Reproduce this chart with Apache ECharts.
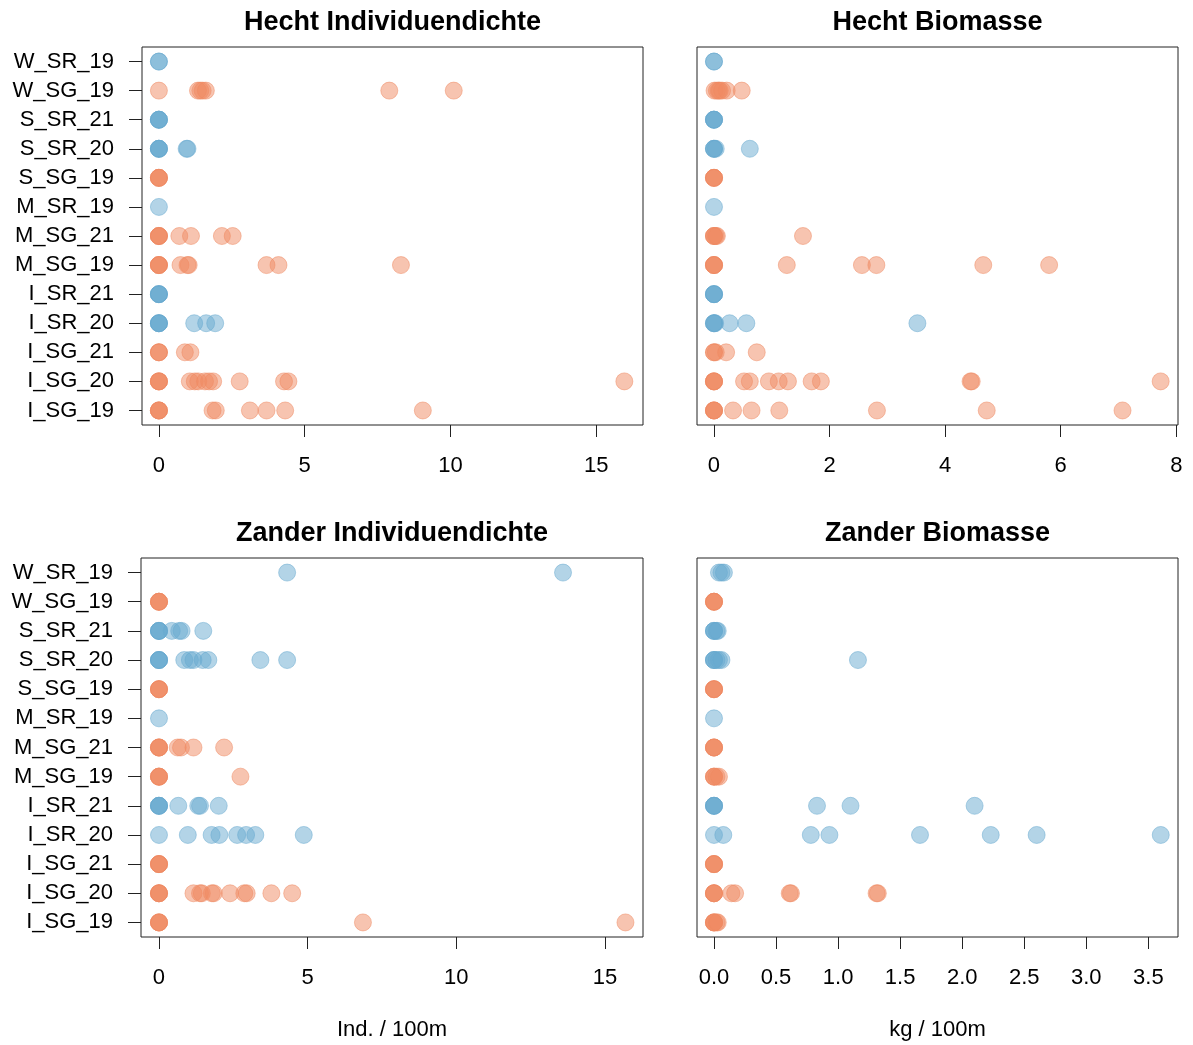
<!DOCTYPE html>
<html>
<head>
<meta charset="utf-8">
<title>Hecht und Zander</title>
<script src="https://cdn.jsdelivr.net/npm/echarts@6/dist/echarts.min.js"></script>
<style>
  html, body { margin: 0; padding: 0; background: #fff; }
  #chart { width: 1193px; height: 1045px; }
</style>
</head>
<body>
<div id="chart"></div>
<script>
// Sampling sites, listed from the bottom row to the top row
const categories = ['I_SG_19', 'I_SG_20', 'I_SG_21', 'I_SR_20', 'I_SR_21', 'M_SG_19', 'M_SG_21',
  'M_SR_19', 'S_SG_19', 'S_SR_20', 'S_SR_21', 'W_SG_19', 'W_SR_19'];

// One list of catch values per site (same order as categories)
const hechtDichte = [
  [0, 0, 0, 0, 1.84, 1.95, 3.12, 3.69, 4.33, 9.05],
  [0, 0, 0, 0, 1.06, 1.23, 1.35, 1.58, 1.72, 1.86, 2.77, 4.29, 4.44, 15.96],
  [0, 0, 0, 0.89, 1.08],
  [0, 0, 0, 0, 1.21, 1.62, 1.93],
  [0, 0, 0, 0],
  [0, 0, 0, 0, 0.74, 0.98, 1.02, 3.69, 4.10, 8.30],
  [0, 0, 0, 0, 0.70, 1.10, 2.16, 2.53],
  [0],
  [0, 0, 0, 0],
  [0, 0, 0, 0, 0.95, 0.98],
  [0, 0, 0, 0],
  [0, 1.34, 1.42, 1.50, 1.61, 7.90, 10.11],
  [0, 0]
];

const hechtBiomasse = [
  [0, 0, 0, 0, 0.33, 0.65, 1.13, 2.82, 4.72, 7.07],
  [0, 0, 0, 0, 0.52, 0.62, 0.95, 1.12, 1.28, 1.69, 1.85, 4.44, 4.46, 7.73],
  [0, 0, 0.03, 0.21, 0.74],
  [0, 0, 0, 0.02, 0.27, 0.56, 3.52],
  [0, 0, 0, 0],
  [0, 0, 0, 0, 1.26, 2.56, 2.81, 4.66, 5.80],
  [0, 0, 0, 0.03, 0.05, 1.54],
  [0],
  [0, 0, 0, 0],
  [0, 0, 0, 0.03, 0.62],
  [0, 0, 0, 0],
  [0.01, 0.05, 0.08, 0.10, 0.14, 0.22, 0.48],
  [0, 0]
];

const zanderDichte = [
  [0, 0, 0, 0, 6.86, 15.69],
  [0, 0, 0, 0, 1.16, 1.38, 1.44, 1.78, 1.84, 2.39, 2.87, 2.95, 3.78, 4.48],
  [0, 0, 0, 0],
  [0, 0.97, 1.77, 2.03, 2.63, 2.93, 3.24, 4.87],
  [0, 0, 0, 0, 0.65, 1.32, 1.38, 2.01],
  [0, 0, 0, 0, 2.74],
  [0, 0, 0, 0, 0.63, 0.74, 1.16, 2.19],
  [0],
  [0, 0, 0, 0],
  [0, 0, 0, 0, 0.85, 1.04, 1.16, 1.47, 1.66, 3.41, 4.31],
  [0, 0, 0, 0, 0.43, 0.68, 0.76, 1.49],
  [0, 0, 0, 0],
  [4.31, 13.59]
];

const zanderBiomasse = [
  [0, 0, 0, 0, 0.02, 0.03],
  [0, 0, 0, 0, 0.14, 0.17, 0.61, 0.62, 1.31, 1.32],
  [0, 0, 0, 0],
  [0, 0.075, 0.78, 0.93, 1.66, 2.23, 2.60, 3.60],
  [0, 0, 0, 0, 0.83, 1.10, 2.10],
  [0, 0, 0, 0.02, 0.04],
  [0, 0, 0, 0],
  [0],
  [0, 0, 0, 0],
  [0, 0, 0, 0.02, 0.04, 0.06, 1.16],
  [0, 0, 0, 0.02, 0.03],
  [0, 0, 0, 0],
  [0.04, 0.06, 0.08]
];

// Tick labels of the value axes
const ticksHechtDichte = [0, 5, 10, 15];
const ticksHechtBiomasse = [0, 2, 4, 6, 8];
const ticksZanderDichte = [0, 5, 10, 15];
const ticksZanderBiomasse = [0, 0.5, 1, 1.5, 2, 2.5, 3, 3.5];

const panelTitles = ['Hecht Individuendichte', 'Hecht Biomasse', 'Zander Individuendichte', 'Zander Biomasse'];
const axisTitles = ['Ind. / 100m', 'kg / 100m'];

const FONT = '"Liberation Sans", Arial, Helvetica, sans-serif';
const BLUE = 'rgba(103,169,207,0.5)';
const ORANGE = 'rgba(239,138,98,0.5)';

const panels = [
  { values: hechtDichte, ticks: ticksHechtDichte, min: -0.58, max: 16.6, dec: 0,
    grid: { left: 142, top: 47, width: 501, height: 378 } },
  { values: hechtBiomasse, ticks: ticksHechtBiomasse, min: -0.294, max: 8.03, dec: 0,
    grid: { left: 697, top: 47, width: 481, height: 378 } },
  { values: zanderDichte, ticks: ticksZanderDichte, min: -0.605, max: 16.28, dec: 0,
    grid: { left: 141, top: 558, width: 502, height: 379 } },
  { values: zanderBiomasse, ticks: ticksZanderBiomasse, min: -0.137, max: 3.739, dec: 1,
    grid: { left: 697, top: 558, width: 481, height: 379 } }
];

const grids = [], xAxes = [], yAxes = [], series = [], graphics = [];

panels.forEach((p, i) => {
  const leftColumn = i % 2 === 0;
  grids.push(Object.assign({ show: true, borderColor: '#222', borderWidth: 1, backgroundColor: 'transparent' }, p.grid));

  xAxes.push({
    type: 'value', gridIndex: i, min: p.min, max: p.max,
    axisLine: { show: false, onZero: false },
    splitLine: { show: false },
    axisTick: { show: true, length: 12, lineStyle: { color: '#222', width: 1 }, customValues: p.ticks },
    axisLabel: {
      customValues: p.ticks, margin: 30, color: '#000', fontSize: 22, fontFamily: FONT,
      formatter: v => v.toFixed(p.dec)
    }
  });

  // site names and their ticks only on the left column
  yAxes.push({
    type: 'category', gridIndex: i, data: categories, boundaryGap: true,
    axisLine: { show: false, onZero: false },
    splitLine: { show: false },
    axisTick: { show: leftColumn, alignWithLabel: true, interval: 0, length: 13, lineStyle: { color: '#222', width: 1 } },
    axisLabel: { show: leftColumn, interval: 0, margin: 28, color: '#000', fontSize: 22, fontFamily: FONT }
  });

  // one strip per site: SR sites in blue, SG sites in orange
  const sr = [], sg = [];
  p.values.forEach((vals, c) => {
    const target = categories[c].indexOf('_SR_') >= 0 ? sr : sg;
    vals.forEach(v => target.push([v, categories[c]]));
  });
  [[sg, ORANGE], [sr, BLUE]].forEach(([data, col]) => {
    series.push({
      type: 'scatter', xAxisIndex: i, yAxisIndex: i, data: data,
      symbol: 'circle', symbolSize: 17, silent: true, animation: false,
      itemStyle: { color: col, borderColor: col, borderWidth: 1, opacity: 1 }
    });
  });

  graphics.push({
    type: 'text', silent: true,
    x: p.grid.left + p.grid.width / 2,
    y: p.grid.top - 24,
    style: {
      text: panelTitles[i], fill: '#000', align: 'center', verticalAlign: 'middle',
      font: 'bold 27px ' + FONT
    }
  });
});

// value-axis names under the lower row
[2, 3].forEach((pi, k) => {
  const g = panels[pi].grid;
  graphics.push({
    type: 'text', silent: true,
    x: g.left + g.width / 2,
    y: 1030,
    style: { text: axisTitles[k], fill: '#000', align: 'center', verticalAlign: 'middle', font: '22px ' + FONT }
  });
});

const chart = echarts.init(document.getElementById('chart'), null, { renderer: 'canvas' });
chart.setOption({
  backgroundColor: '#ffffff',
  animation: false,
  grid: grids,
  xAxis: xAxes,
  yAxis: yAxes,
  series: series,
  graphic: graphics
});
</script>
</body>
</html>
